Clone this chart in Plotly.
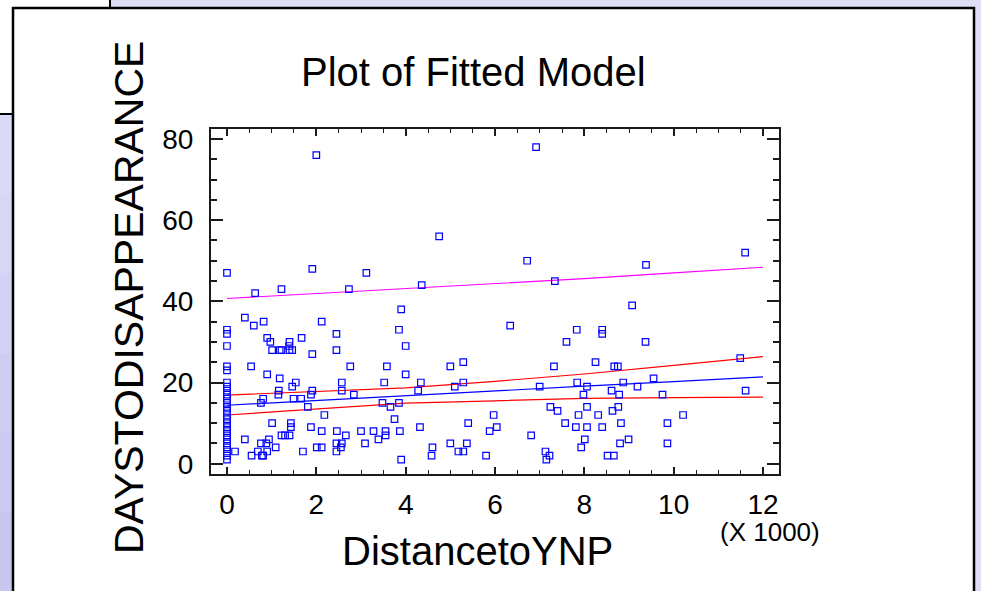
import plotly.graph_objects as go

# ---------------- data (distance in thousands, days) ----------------
zero_days = [47, 33, 32, 29, 24, 23, 20, 19, 18, 17, 16, 15, 14, 13, 12, 11, 10, 9, 8, 7, 6, 5, 4, 3, 2, 1]

dist_a = [0.40, 0.60, 0.82, 0.90, 0.97, 1.01, 1.18, 1.22, 1.40, 1.39, 1.40, 1.46, 1.67, 1.91, 1.91, 2.12, 2.45, 2.45,
          2.73, 3.12, 1.22, 0.63, 0.54, 0.90, 1.18, 1.54, 1.46, 1.16, 1.15, 0.81, 0.76, 1.49, 1.66, 1.91, 1.88, 1.81,
          2.18, 2.57, 2.57, 2.76, 2.84, 3.58, 3.52, 3.48, 3.66, 3.75, 3.85, 3.90, 3.85, 1.01, 1.43, 1.43, 1.88, 2.12,
          2.46, 2.66, 3.00, 3.28, 3.55, 3.55, 3.39, 3.09, 3.87, 3.90, 1.22, 1.30, 1.40, 0.94, 0.40, 0.76, 0.88, 1.09,
          0.90, 0.69, 0.18, 0.55, 0.78, 0.81, 1.70, 2.01, 2.12, 2.45, 2.57, 2.55, 2.45]
days_a = [36, 34, 35, 31, 30, 28, 28, 28, 30, 29, 28, 28, 31, 48, 27, 35, 32, 28,
          43, 47, 43, 42, 24, 22, 21, 20, 19, 18, 17, 16, 15, 16, 16, 18, 17, 14,
          12, 20, 18, 24, 17, 24, 20, 15, 14, 11, 15, 38, 33, 10, 10, 9, 9, 8,
          8, 7, 8, 8, 8, 7, 6, 5, 8, 1, 7, 7, 7, 6, 6, 5, 5, 4,
          3, 3, 3, 2, 2, 2, 3, 4, 4, 5, 5, 4, 3]

dist_b = [2.00, 4.75, 6.92, 11.60, 6.72, 7.34, 9.38, 9.07, 4.36,
          4.00, 6.34, 7.83, 7.60, 5.00, 5.29, 7.32, 4.00, 4.34, 5.10, 5.29, 4.28, 7.00, 7.84, 8.06, 7.98, 7.24, 7.40,
          8.06, 7.87, 5.97, 7.57, 5.40, 4.32, 6.04, 5.88, 6.81, 7.81, 8.06, 8.01, 5.00, 5.37, 4.60, 4.58, 5.18, 5.29,
          5.80, 7.13, 7.22, 7.15, 7.93,
          8.40, 8.40, 9.37, 8.25, 8.67, 8.75, 11.49, 9.55, 8.87, 9.19, 8.61, 8.78, 9.75, 11.61, 8.76, 8.31, 8.63,
          10.21, 8.40, 8.82, 9.86, 8.99, 8.80, 9.86, 8.52, 8.66]
days_b = [76, 56, 78, 52, 50, 45, 49, 39, 44,
          29, 34, 33, 30, 24, 25, 24, 22, 20, 19, 20, 18, 19, 20, 19, 17, 14, 13,
          14, 12, 12, 10, 10, 9, 9, 8, 7, 9, 9, 6, 5, 5, 4, 2, 3, 3,
          2, 3, 2, 1, 4,
          33, 32, 30, 25, 24, 24, 26, 21, 20, 19, 18, 17, 17, 18, 14, 12, 13,
          12, 9, 10, 10, 6, 5, 5, 2, 2]

distance = [0.0] * len(zero_days) + dist_a + dist_b
days = zero_days + days_a + days_b

# fitted model lines
line_x = [0, 2, 4, 6, 8, 10, 12]
fit_y = [14.4, 15.6, 16.7, 17.9, 19.1, 20.2, 21.4]
conf_upper = [16.9, 17.8, 18.7, 20.3, 22.1, 24.2, 26.4]
conf_lower = [12.0, 13.5, 14.9, 15.5, 16.1, 16.3, 16.4]
pred_upper = [40.7, 41.9, 43.1, 44.4, 45.6, 47.0, 48.4]

x_ticks = [0, 2, 4, 6, 8, 10, 12]
y_ticks = [0, 20, 40, 60, 80]

# ---------------- figure ----------------
W, H = 981, 591
L, R, T, B = 211, 779, 129, 474
FONT = "Liberation Sans, Arial, sans-serif"


def px_x(p):
    return (p - L) / (R - L)


def px_y(p):
    return (B - p) / (B - T)


fig = go.Figure()
fig.add_trace(go.Scatter(x=line_x, y=pred_upper, mode="lines",
                         line=dict(color="#ff00ff", width=1.2), hoverinfo="skip"))
fig.add_trace(go.Scatter(x=line_x, y=conf_upper, mode="lines",
                         line=dict(color="#ff0000", width=1.2), hoverinfo="skip"))
fig.add_trace(go.Scatter(x=line_x, y=conf_lower, mode="lines",
                         line=dict(color="#ff0000", width=1.2), hoverinfo="skip"))
fig.add_trace(go.Scatter(x=line_x, y=fit_y, mode="lines",
                         line=dict(color="#0000ff", width=1.2), hoverinfo="skip"))
fig.add_trace(go.Scatter(x=distance, y=days, mode="markers",
                         marker=dict(symbol="square-open", size=6.5, color="#0000ff",
                                     line=dict(width=1.2, color="#0000ff"))))

axis_common = dict(showgrid=False, zeroline=False, showline=True, linecolor="#1a1a1a", linewidth=2,
                   ticks="inside", tickcolor="#1a1a1a", mirror="allticks",
                   tickfont=dict(family=FONT, size=28, color="black"))

fig.update_xaxes(range=[-0.358, 12.358], tickvals=x_ticks, ticktext=[str(v) for v in x_ticks],
                 ticklen=7, tickwidth=1.5,
                 minor=dict(dtick=0.5, tick0=0, ticklen=4, tickwidth=1.2, ticks="inside", tickcolor="#1a1a1a"),
                 ticklabelstandoff=4, **axis_common)
fig.update_yaxes(range=[-2.54, 82.46], tickvals=y_ticks, ticktext=[str(v) for v in y_ticks],
                 ticklen=12, tickwidth=1.8,
                 minor=dict(dtick=5, tick0=0, ticklen=6, tickwidth=1.5, ticks="inside", tickcolor="#1a1a1a"),
                 ticklabelstandoff=10, **axis_common)

shapes = []
# left lavender gradient bands
band_cols = ["#dadaf6", "#d6d6f5", "#d2d2f4", "#cecef3", "#cacaf2", "#c6c6f1"]
for i, c in enumerate(band_cols):
    shapes.append(dict(type="rect", xref="paper", yref="paper", layer="below",
                       x0=px_x(-2), x1=px_x(13), y0=px_y(114 + i * (H - 114) / len(band_cols)),
                       y1=px_y(114 + (i + 1) * (H - 114) / len(band_cols)),
                       fillcolor=c, line=dict(width=0)))
# back window (top-left)
shapes.append(dict(type="rect", xref="paper", yref="paper", layer="below",
                   x0=px_x(-10), x1=px_x(110), y0=px_y(-10), y1=px_y(114),
                   fillcolor="white", line=dict(color="black", width=2)))
# main white panel
shapes.append(dict(type="rect", xref="paper", yref="paper", layer="below",
                   x0=px_x(13), x1=px_x(974), y0=px_y(8), y1=px_y(640),
                   fillcolor="white", line=dict(color="black", width=2.5)))

annotations = [
    dict(text="Plot of Fitted Model", x=px_x(473), y=px_y(72), xref="paper", yref="paper",
         showarrow=False, xanchor="center", yanchor="middle",
         font=dict(family=FONT, size=40, color="black")),
    dict(text="DAYSTODISAPPEARANCE", x=px_x(129), y=px_y(298), xref="paper", yref="paper",
         showarrow=False, xanchor="center", yanchor="middle", textangle=-90,
         font=dict(family=FONT, size=41, color="black")),
    dict(text="DistancetoYNP", x=px_x(477), y=px_y(551), xref="paper", yref="paper",
         showarrow=False, xanchor="center", yanchor="middle",
         font=dict(family=FONT, size=40, color="black")),
    dict(text="(X 1000)", x=px_x(770), y=px_y(532), xref="paper", yref="paper",
         showarrow=False, xanchor="center", yanchor="middle",
         font=dict(family=FONT, size=26, color="black")),
]

fig.update_layout(width=W, height=H, autosize=False,
                  margin=dict(l=L, r=W - R, t=T, b=H - B, pad=0),
                  paper_bgcolor="#dedef7", plot_bgcolor="white",
                  showlegend=False, shapes=shapes, annotations=annotations,
                  font=dict(family=FONT, color="black"))

fig.write_html("out.html", config={"displayModeBar": False},
               post_script="document.body.style.margin='0';document.body.style.overflow='hidden';")
